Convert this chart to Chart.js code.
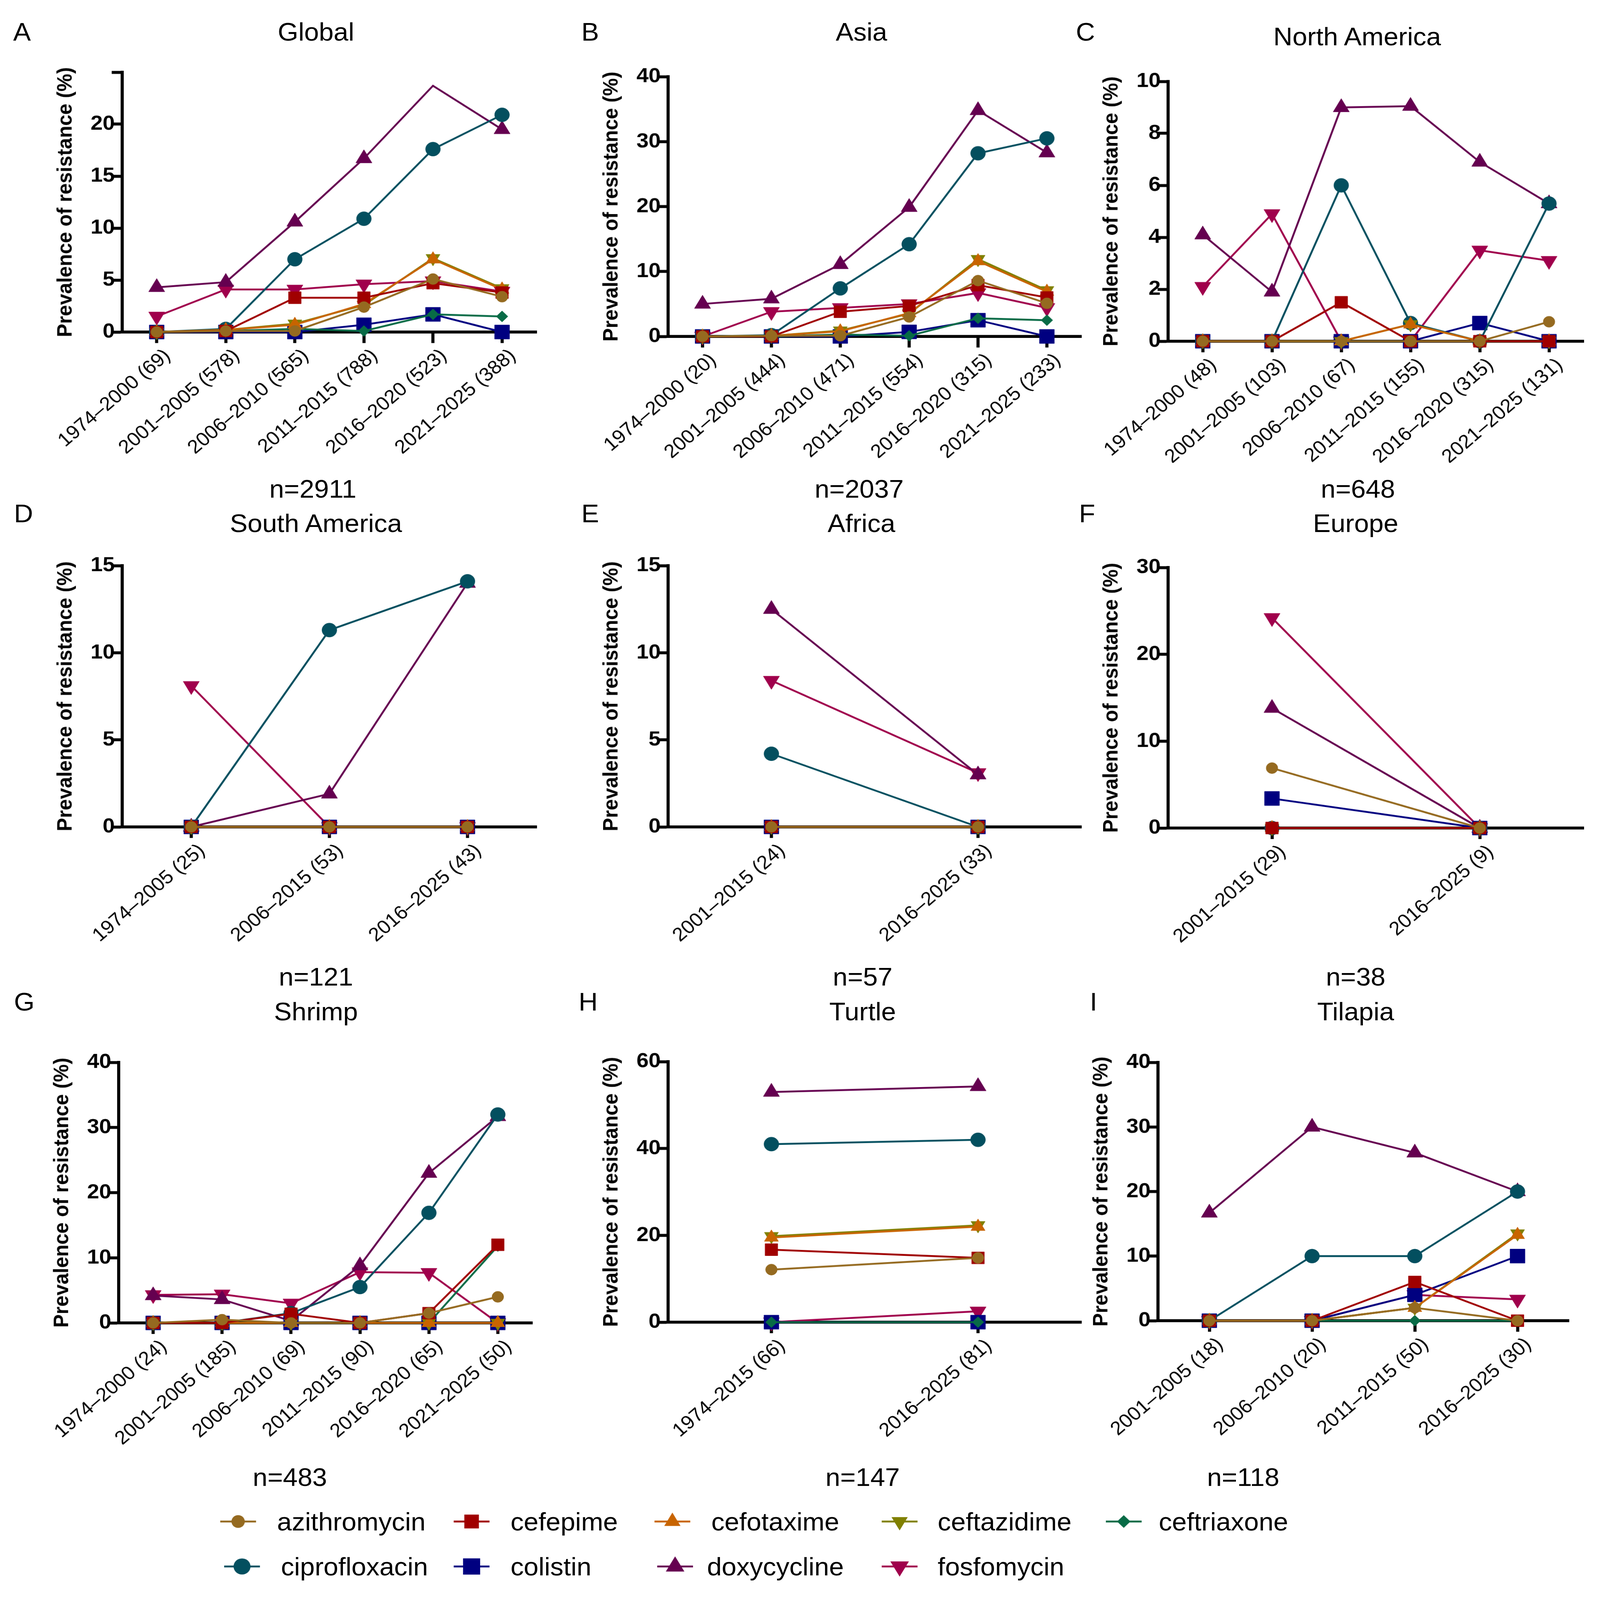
<!DOCTYPE html>
<html>
<head>
<meta charset="utf-8">
<script src="https://cdn.jsdelivr.net/npm/chart.js"></script>
<style>
  html, body { margin: 0; background: #fff; overflow: hidden; }
  #fig { position: relative; width: 4112px; height: 4342px; background: #fff; transform-origin: 0 0;
         font-family: "Liberation Sans", Arial, sans-serif; color: #000; overflow: hidden; }
  #fig canvas { position: absolute; }
  .lbl { position: absolute; font-size: 68px; line-height: 1; white-space: nowrap; transform: translate(-50%, -50%); }
  .letter { position: absolute; font-size: 68px; line-height: 1; transform: translateY(-50%); }
  .legtxt { position: absolute; font-size: 68px; line-height: 1; white-space: nowrap; transform: translateY(-50%); }
</style>
</head>
<body>
<div id="fig"></div>
<script>
// ---- data (rows follow the order of `drugs`) ----
const drugs = ['azithromycin', 'cefepime', 'cefotaxime', 'ceftazidime', 'ceftriaxone',
               'ciprofloxacin', 'colistin', 'doxycycline', 'fosfomycin'];

const globalCats = ['1974–2000 (69)', '2001–2005 (578)', '2006–2010 (565)', '2011–2015 (788)', '2016–2020 (523)', '2021–2025 (388)'];
const globalVals = [
  [0, 0.1, 0.1, 2.4, 5.1, 3.4],
  [0, 0.1, 3.3, 3.3, 4.7, 3.8],
  [0, 0.2, 0.7, 2.7, 7.0, 4.1],
  [0, 0.2, 0.8, 2.6, 7.1, 4.2],
  [0, 0.1, 0.3, 0.1, 1.7, 1.5],
  [0, 0.3, 7.0, 10.9, 17.6, 20.9],
  [0, 0, 0, 0.7, 1.7, 0],
  [4.3, 4.8, 10.6, 16.7, 23.7, 19.5],
  [1.5, 4.1, 4.1, 4.6, 4.9, 3.9]
];

const asiaCats = ['1974–2000 (20)', '2001–2005 (444)', '2006–2010 (471)', '2011–2015 (554)', '2016–2020 (315)', '2021–2025 (233)'];
const asiaVals = [
  [0, 0.1, 0.1, 3.0, 8.6, 5.1],
  [0, 0, 3.8, 4.7, 7.9, 6.0],
  [0, 0.1, 0.8, 3.6, 11.6, 6.9],
  [0, 0.1, 0.9, 3.5, 11.9, 7.1],
  [0, 0, 0.3, 0.1, 2.8, 2.5],
  [0, 0.2, 7.4, 14.2, 28.2, 30.5],
  [0, 0, 0, 0.7, 2.5, 0],
  [5.0, 5.8, 11.1, 19.9, 34.8, 28.3],
  [0, 3.8, 4.4, 5.0, 6.7, 4.4]
];

const naCats = ['1974–2000 (48)', '2001–2005 (103)', '2006–2010 (67)', '2011–2015 (155)', '2016–2020 (315)', '2021–2025 (131)'];
const naVals = [
  [0, 0, 0, 0, 0, 0.75],
  [0, 0, 1.5, 0, 0, 0],
  [0, 0, 0, 0.65, 0, 0],
  [0, 0, 0, 0.65, 0, 0],
  [0, 0, 0, 0, 0, 0],
  [0, 0, 6.0, 0.7, 0, 5.3],
  [0, 0, 0, 0, 0.7, 0],
  [4.1, 1.9, 9.0, 9.05, 6.9, 5.3],
  [2.1, 4.9, 0, 0, 3.5, 3.1]
];

const saCats = ['1974–2005 (25)', '2006–2015 (53)', '2016–2025 (43)'];
const saVals = [
  [0, 0, 0], [0, 0, 0], [0, 0, 0], [0, 0, 0], [0, 0, 0],
  [0, 11.3, 14.1],
  [0, 0, 0],
  [0, 1.9, 14.0],
  [8.1, 0, 0]
];

const africaCats = ['2001–2015 (24)', '2016–2025 (33)'];
const africaVals = [
  [0, 0], [0, 0], [0, 0], [0, 0], [0, 0],
  [4.2, 0],
  [0, 0],
  [12.5, 3.0],
  [8.4, 3.1]
];

const europeCats = ['2001–2015 (29)', '2016–2025 (9)'];
const europeVals = [
  [6.9, 0], [0, 0], [0, 0], [0, 0], [0, 0], [0, 0],
  [3.4, 0],
  [13.8, 0],
  [24.2, 0]
];

const shrimpCats = ['1974–2000 (24)', '2001–2005 (185)', '2006–2010 (69)', '2011–2015 (90)', '2016–2020 (65)', '2021–2025 (50)'];
const shrimpVals = [
  [0, 0.5, 0, 0, 1.5, 4.0],
  [0, 0, 1.4, 0, 1.5, 12.0],
  [0, 0, 0, 0, 0, 0],
  [0, 0, 0, 0, 0, 0],
  [0, 0, 0, 0, 0, 11.8],
  [0, 0, 1.5, 5.5, 16.9, 32.0],
  [0, 0, 0, 0, 0, 0],
  [4.2, 3.6, 0.3, 8.8, 23.0, 31.7],
  [4.3, 4.4, 3.0, 7.8, 7.7, 0]
];

const turtleCats = ['1974–2015 (66)', '2016–2025 (81)'];
const turtleVals = [
  [12.1, 14.8],
  [16.7, 14.8],
  [19.5, 22.0],
  [19.8, 22.3],
  [0, 0],
  [41.0, 42.0],
  [0, 0],
  [53.0, 54.3],
  [0, 2.5]
];

const tilapiaCats = ['2001–2005 (18)', '2006–2010 (20)', '2011–2015 (50)', '2016–2025 (30)'];
const tilapiaVals = [
  [0, 0, 2, 0],
  [0, 0, 6, 0],
  [0, 0, 2, 13.3],
  [0, 0, 2, 13.5],
  [0, 0, 0, 0],
  [0, 10, 10, 20],
  [0, 0, 4, 10],
  [16.7, 30, 26, 20],
  [0, 0, 4, 3.3]
];

const panelLetters = ['A', 'B', 'C', 'D', 'E', 'F', 'G', 'H', 'I'];
const panelTitles = ['Global', 'Asia', 'North America', 'South America', 'Africa', 'Europe', 'Shrimp', 'Turtle', 'Tilapia'];
const panelN = ['n=2911', 'n=2037', 'n=648', 'n=121', 'n=57', 'n=38', 'n=483', 'n=147', 'n=118'];
const yMaxes = [25, 40, 10, 15, 15, 30, 40, 60, 40];
const ySteps = [5, 10, 2, 5, 5, 10, 10, 20, 10];
const yLabelMax = [20, 40, 10, 15, 15, 30, 40, 60, 40];

const panelCats = [globalCats, asiaCats, naCats, saCats, africaCats, europeCats, shrimpCats, turtleCats, tilapiaCats];
const panelVals = [globalVals, asiaVals, naVals, saVals, africaVals, europeVals, shrimpVals, turtleVals, tilapiaVals];

// ---- styles / layout ----
const drugStyle = {
  azithromycin:  { color: '#956A20', shape: 'circle',   r: 15, rot: 0 },
  cefepime:      { color: '#A00000', shape: 'rect',     r: 23, rot: 0 },
  cefotaxime:    { color: '#C86400', shape: 'triangle', r: 21, rot: 0 },
  ceftazidime:   { color: '#808000', shape: 'triangle', r: 21, rot: 180 },
  ceftriaxone:   { color: '#086B46', shape: 'rectRot',  r: 15, rot: 0 },
  ciprofloxacin: { color: '#034F5F', shape: 'circle',   r: 19, rot: 0 },
  colistin:      { color: '#000080', shape: 'rect',     r: 27, rot: 0 },
  doxycycline:   { color: '#650050', shape: 'triangle', r: 24, rot: 0 },
  fosfomycin:    { color: '#A0004C', shape: 'triangle', r: 24, rot: 180 }
};

// plot-area boxes in figure pixels (figure is 4112 x 4342)
const boxes = [
  { l: 314,  t: 196,  r: 1379, b: 901 },
  { l: 1717, t: 208,  r: 2779, b: 913 },
  { l: 3002, t: 221,  r: 4070, b: 926 },
  { l: 314,  t: 1535, r: 1379, b: 2244 },
  { l: 1717, t: 1535, r: 2779, b: 2244 },
  { l: 3002, t: 1540, r: 4070, b: 2247 },
  { l: 305,  t: 2883, r: 1368, b: 3590 },
  { l: 1717, t: 2881, r: 2779, b: 3588 },
  { l: 2976, t: 2883, r: 4032, b: 3584 }
];
const titleAt  = [[812, 86], [2214, 86], [3488, 99], [812, 1420], [2214, 1420], [3484, 1420], [812, 2745], [2217, 2745], [3484, 2745]];
const nAt      = [[804, 1326], [2208, 1326], [3490, 1326], [812, 2651], [2217, 2651], [3484, 2651], [745, 4008], [2217, 4008], [3195, 4008]];
const letterAt = [[34, 86], [1494, 86], [2765, 86], [36, 1393], [1494, 1393], [2773, 1393], [36, 2718], [1487, 2718], [2801, 2718]];
// markers that the original figure leaves out: panel -> drug index -> point indices
const hiddenPoints = { 0: { 7: [4] } };

const PAD_L = 300, PAD_T = 40, PAD_R = 30, Y_W = 180, X_H = 330;
const FIG_W = 4112, FIG_H = 4342;
const LEGEND_MARK_SCALE = 1.15;

Chart.defaults.font.family = '"Liberation Sans", Arial, sans-serif';
Chart.defaults.color = '#000';

const fig = document.getElementById('fig');
// fit the whole figure into the window if the window is smaller than the figure
const sx = Math.min(1, window.innerWidth / FIG_W);
const sy = Math.min(1, window.innerHeight / FIG_H);
if (sx < 1 || sy < 1) fig.style.transform = 'scale(' + sx + ',' + sy + ')';

function addText(cls, txt, x, y) {
  const d = document.createElement('div');
  d.className = cls;
  d.textContent = txt;
  d.style.left = x + 'px';
  d.style.top = y + 'px';
  fig.appendChild(d);
}

panelCats.forEach((cats, k) => {
  const b = boxes[k];
  const w = b.r - b.l + PAD_L + PAD_R;
  const h = b.b - b.t + PAD_T + X_H;
  const cv = document.createElement('canvas');
  cv.width = w; cv.height = h;
  cv.style.left = (b.l - PAD_L) + 'px';
  cv.style.top = (b.t - PAD_T) + 'px';
  cv.style.width = w + 'px';
  cv.style.height = h + 'px';
  fig.appendChild(cv);

  const datasets = drugs.map((d, i) => {
    const st = drugStyle[d];
    let radius = st.r;
    const hid = hiddenPoints[k] && hiddenPoints[k][i];
    if (hid) radius = panelVals[k][i].map((v, j) => hid.includes(j) ? 0 : st.r);
    return {
      label: d,
      data: panelVals[k][i],
      borderColor: st.color,
      backgroundColor: st.color,
      borderWidth: 5,
      pointStyle: st.shape,
      pointRotation: st.rot,
      pointRadius: radius,
      pointHoverRadius: radius,
      pointBorderWidth: 1,
      pointBorderColor: st.color,
      pointBackgroundColor: st.color,
      tension: 0,
      fill: false,
      clip: false
    };
  });

  new Chart(cv, {
    type: 'line',
    data: { labels: cats, datasets },
    options: {
      responsive: false,
      animation: false,
      events: [],
      layout: { padding: { left: PAD_L - Y_W, top: PAD_T, right: PAD_R, bottom: 0 } },
      plugins: { legend: { display: false }, tooltip: { enabled: false } },
      scales: {
        x: {
          offset: true,
          grid: { display: true, drawOnChartArea: false, drawTicks: true, offset: false,
                  tickLength: 30, tickWidth: 8, color: '#000', tickColor: '#000' },
          border: { display: true, color: '#000', width: 8 },
          ticks: { autoSkip: false, minRotation: 42, maxRotation: 42, padding: 4, labelOffset: 28,
                   color: '#000', font: { size: 52 } },
          afterFit: s => { s.height = X_H; }
        },
        y: {
          min: 0,
          max: yMaxes[k],
          grid: { display: true, drawOnChartArea: false, drawTicks: true,
                  tickLength: 27, tickWidth: 8, color: '#000', tickColor: '#000' },
          border: { display: true, color: '#000', width: 8 },
          ticks: {
            stepSize: ySteps[k],
            padding: -8,
            color: '#000',
            font: { size: 56, weight: 'bold' },
            callback: v => (v > yLabelMax[k] ? '' : v)
          },
          title: {
            display: true,
            text: 'Prevalence of resistance (%)',
            color: '#000',
            font: { size: 54, weight: 'bold' },
            padding: { top: 3, bottom: 0 }
          },
          afterFit: s => { s.width = Y_W; }
        }
      }
    }
  });

  addText('lbl', panelTitles[k], titleAt[k][0], titleAt[k][1]);
  addText('lbl', panelN[k], nAt[k][0], nAt[k][1]);
  addText('letter', panelLetters[k], letterAt[k][0], letterAt[k][1]);
});

// ---- legend ----
const legendRows = [[0, 1, 2, 3, 4], [5, 6, 7, 8]];
const legendMarkX = [[612, 1212, 1728, 2312, 2888], [622, 1212, 1735, 2312]];
const legendTextX = [[712, 1312, 1828, 2410, 2978], [722, 1312, 1817, 2410]];
const legendY = [4129, 4251];

function drawMarker(ctx, shape, x, y, r, rot) {
  ctx.beginPath();
  if (shape === 'circle') {
    ctx.arc(x, y, r, 0, Math.PI * 2);
  } else if (shape === 'rect') {
    const s = Math.SQRT1_2 * r;
    ctx.rect(x - s, y - s, 2 * s, 2 * s);
  } else if (shape === 'rectRot') {
    ctx.moveTo(x - r, y); ctx.lineTo(x, y - r); ctx.lineTo(x + r, y); ctx.lineTo(x, y + r);
  } else {
    let a = rot * Math.PI / 180;
    ctx.moveTo(x + Math.sin(a) * r, y - Math.cos(a) * r);
    a += 2 * Math.PI / 3;
    ctx.lineTo(x + Math.sin(a) * r, y - Math.cos(a) * r);
    a += 2 * Math.PI / 3;
    ctx.lineTo(x + Math.sin(a) * r, y - Math.cos(a) * r);
  }
  ctx.closePath();
  ctx.fill();
}

legendRows.forEach((row, ri) => {
  row.forEach((di, ci) => {
    const st = drugStyle[drugs[di]];
    const cv = document.createElement('canvas');
    cv.width = 140; cv.height = 80;
    cv.style.left = (legendMarkX[ri][ci] - 70) + 'px';
    cv.style.top = (legendY[ri] - 40) + 'px';
    cv.style.width = '140px'; cv.style.height = '80px';
    fig.appendChild(cv);
    const ctx = cv.getContext('2d');
    ctx.strokeStyle = st.color;
    ctx.fillStyle = st.color;
    ctx.lineWidth = 5;
    ctx.beginPath(); ctx.moveTo(24, 40); ctx.lineTo(116, 40); ctx.stroke();
    drawMarker(ctx, st.shape, 70, 40, st.r * LEGEND_MARK_SCALE, st.rot);
    addText('legtxt', drugs[di], legendTextX[ri][ci], legendY[ri]);
  });
});
</script>
</body>
</html>
